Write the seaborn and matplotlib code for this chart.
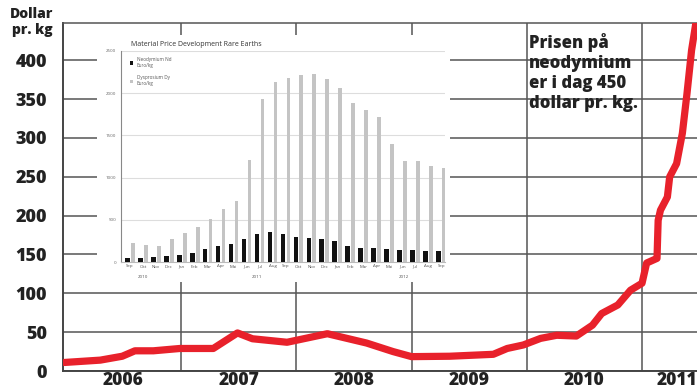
import numpy as np
import pandas as pd
import matplotlib
matplotlib.use("Agg")
import matplotlib.pyplot as plt
import seaborn as sns
from matplotlib.patches import Rectangle
from matplotlib.transforms import blended_transform_factory

# Neodymium price, dollar per kg (fractional year)
nd_year = [2005.99, 2006.30, 2006.49, 2006.60, 2006.76, 2006.99, 2007.28, 2007.49,
           2007.62, 2007.92, 2008.27, 2008.61, 2008.84, 2009.00, 2009.33, 2009.71,
           2009.83, 2009.97, 2010.12, 2010.26, 2010.43, 2010.57, 2010.65, 2010.79,
           2010.90, 2011.00, 2011.04, 2011.13, 2011.14, 2011.16, 2011.22, 2011.24,
           2011.30, 2011.35, 2011.39, 2011.43, 2011.48]
nd_price = [11, 14, 19, 26, 26, 29, 29, 49,
            41.5, 37, 48, 36, 25, 18.5, 19, 21.5,
            29, 33.5, 42, 46, 45, 59, 74, 85,
            104, 113, 139, 145, 194, 207, 224, 250,
            267, 306, 357, 413, 460]

year_labels = ["2006", "2007", "2008", "2009", "2010", "2011"]
year_label_pos = [2006.5, 2007.5, 2008.5, 2009.5, 2010.5, 2011.3]
year_bounds = [2007, 2008, 2009, 2010, 2011]
y_ticks = [0, 50, 100, 150, 200, 250, 300, 350, 400]

# Monthly prices in Euro/kg, Sep 2010 - Sep 2012
months = ["Sep", "Okt", "Nov", "Dec", "Jan", "Feb", "Mar", "Apr", "Mai", "Jun",
          "Jul", "Aug", "Sep", "Okt", "Nov", "Dec", "Jan", "Feb", "Mar", "Apr",
          "Mai", "Jun", "Jul", "Aug", "Sep"]
neodymium = [52, 48, 60, 68, 88, 112, 156, 184, 216, 272,
             336, 356, 328, 292, 282, 268, 246, 189, 165, 165,
             154, 142, 142, 134, 134]
dysprosium = [220, 200, 192, 272, 344, 420, 508, 632, 728, 1208,
              1930, 2135, 2180, 2215, 2230, 2165, 2067, 1880, 1803, 1717,
              1398, 1201, 1201, 1142, 1114]
inset_years = ["2010", "2011", "2012"]
inset_year_pos = [1.2, 10.0, 21.3]
inset_y_ticks = [0, 500, 1000, 1500, 2000, 2500]

sns.set_theme(style="white")
plt.rcParams["font.family"] = ["Open Sans", "DejaVu Sans"]

W, H = 697, 389
fig = plt.figure(figsize=(W / 100, H / 100), dpi=100)
fig.patch.set_facecolor("white")

# ---- main chart ----
ax = fig.add_axes([63 / W, 1 - 371 / H, (W - 63) / W, (371 - 23) / H])
df = pd.DataFrame({"year": nd_year, "price": nd_price})
sns.lineplot(data=df, x="year", y="price", ax=ax, color="#e8212b",
             linewidth=5.2, sort=False, estimator=None,
             solid_capstyle="round", solid_joinstyle="round", zorder=5)
ax.set_xlim(2005.976, 2011.477)
ax.set_ylim(0, 448)
ax.set_xlabel("")
ax.set_ylabel("")
ax.set_yticks(y_ticks)
ax.set_yticklabels([str(v) for v in y_ticks], fontsize=13, fontweight=800,
                   color="#222222")
ax.set_xticks(year_label_pos)
ax.set_xticklabels(year_labels, fontsize=12.5, fontweight=800, color="#222222")
ax.set_xticks(year_bounds, minor=True)
ax.tick_params(axis="y", length=0, pad=11.5)
ax.tick_params(axis="x", which="both", length=0, pad=0.4)
ax.grid(False)
ax.grid(True, axis="y", which="major", color="#555555", linewidth=1.1)
ax.grid(True, axis="x", which="minor", color="#555555", linewidth=1.1)
for side in ["left", "bottom"]:
    ax.spines[side].set_color("#444444")
    ax.spines[side].set_linewidth(1.4)
ax.spines["top"].set_color("#555555")
ax.spines["top"].set_linewidth(1.1)
ax.spines["right"].set_visible(False)

fig.text(32 / W, 1 - 22 / H, "Dollar\npr. kg", ha="center", va="center",
         fontsize=10, fontweight=800, color="#222222", linespacing=1.15)
fig.text(529 / W, 1 - 33 / H, "Prisen på\nneodymium\ner i dag 450\ndollar pr. kg.",
         ha="left", va="top", fontsize=12, fontweight=800, color="#222222",
         linespacing=1.22)

# ---- inset panel ----
fig.patches.append(Rectangle((97 / W, 1 - 282 / H), (450 - 97) / W, (282 - 35) / H,
                             transform=fig.transFigure, facecolor="white",
                             edgecolor="none", zorder=1))

axi = fig.add_axes([121 / W, 1 - 262 / H, (445 - 121) / W, (262 - 51) / H])
axi.set_zorder(2)
idx = np.arange(len(months))
nd_df = pd.DataFrame({"pos": idx.astype(float), "value": neodymium})
dy_df = pd.DataFrame({"pos": idx + 0.42, "value": dysprosium})
sns.barplot(data=nd_df, x="pos", y="value", native_scale=True,
            color="#111111", saturation=1, ax=axi, label="Neodymium Nd\nEuro/kg",
            zorder=3)
nd_bars = list(axi.patches)
sns.barplot(data=dy_df, x="pos", y="value", native_scale=True,
            color="#c4c4c4", saturation=1, ax=axi, label="Dysprosium Dy\nEuro/kg",
            zorder=3)
dy_bars = [p for p in axi.patches if p not in nd_bars]

# bar widths in month units: dark bars wider than the light ones
for bars, w in ((nd_bars, 0.36), (dy_bars, 0.29)):
    for p in bars:
        c = p.get_x() + p.get_width() / 2
        p.set_width(w)
        p.set_x(c - w / 2)
        p.set_linewidth(0)

axi.set_xlim(-0.49, 24.5)
axi.set_ylim(0, 2500)
axi.set_xlabel("")
axi.set_ylabel("")
axi.set_yticks(inset_y_ticks)
axi.set_yticklabels([str(v) for v in inset_y_ticks], fontsize=3.2, color="#666666")
axi.set_xticks(idx + 0.2)
axi.set_xticklabels(months, fontsize=3.2, color="#555555")
axi.tick_params(axis="y", length=2, width=0.5, color="#888888", pad=1.5)
axi.tick_params(axis="x", length=0, pad=1.8)
axi.grid(True, axis="y", color="#dddddd", linewidth=0.8, zorder=0)
axi.set_axisbelow(True)
for side in ["top", "right"]:
    axi.spines[side].set_visible(False)
axi.spines["left"].set_color("#888888")
axi.spines["left"].set_linewidth(0.8)
axi.spines["bottom"].set_color("#bbbbbb")
axi.spines["bottom"].set_linewidth(0.8)

tr = blended_transform_factory(axi.transData, axi.transAxes)
for lbl, pos in zip(inset_years, inset_year_pos):
    axi.text(pos, -0.07, lbl, transform=tr, ha="center", va="center",
             fontsize=3.2, color="#555555")

axi.text(10 / (445 - 121), 1 + 7 / (262 - 51), "Material Price Development Rare Earths",
         transform=axi.transAxes, ha="left", va="center", fontsize=5,
         color="#333333")
axi.legend(loc="upper left", bbox_to_anchor=(0.015, 0.99), frameon=False,
           fontsize=3.3, handlelength=0.7, handleheight=0.7, labelspacing=1.6,
           handletextpad=0.8, labelcolor="#555555")

fig.savefig("out.png", dpi=100)
